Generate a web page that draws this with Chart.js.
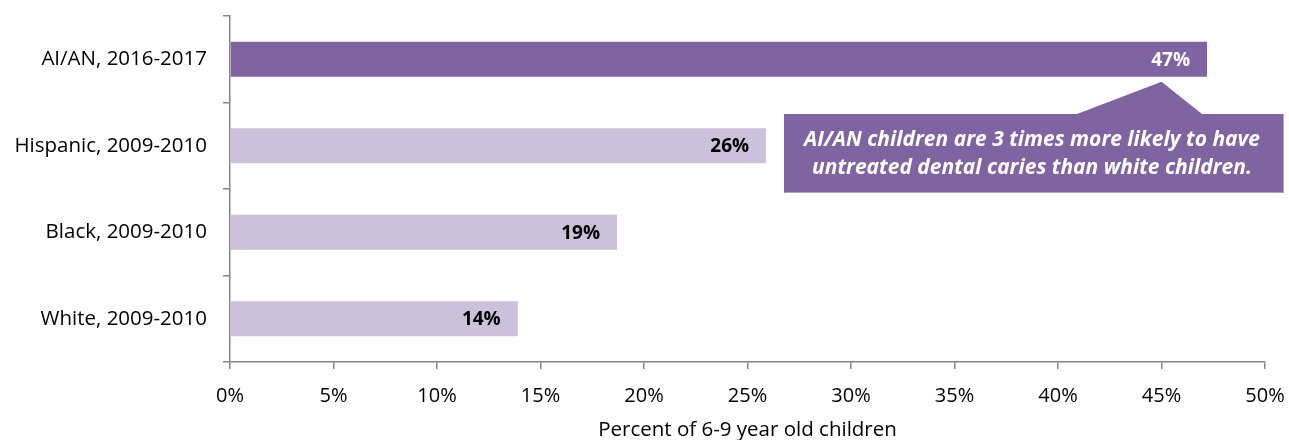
<!DOCTYPE html>
<html>
<head>
<meta charset="utf-8">
<script src="https://cdn.jsdelivr.net/npm/chart.js@4/dist/chart.umd.min.js"></script>
<style>
  html, body { margin: 0; padding: 0; background: #fff; }
  #wrap { width: 1289px; height: 440px; position: relative; }
</style>
</head>
<body>
<div id="wrap"><canvas id="c"></canvas></div>
<script>
// Untreated dental caries among 6-9 year old children
const categories = ['AI/AN, 2016-2017', 'Hispanic, 2009-2010', 'Black, 2009-2010', 'White, 2009-2010'];
const values = [47.2, 25.9, 18.7, 13.9];
const valueLabels = ['47%', '26%', '19%', '14%'];
const barColors = ['#8064A2', '#CCC1DA', '#CCC1DA', '#CCC1DA'];
const labelColors = ['#FFFFFF', '#000000', '#000000', '#000000'];
const calloutLines = ['AI/AN children are 3 times more likely to have', 'untreated dental caries than white children.'];
const axisTitle = 'Percent of 6-9 year old children';

const FONT = '"Open Sans", Lato, sans-serif';

// value labels drawn inside the bar ends
const barLabels = {
  id: 'barLabels',
  afterDatasetsDraw(chart) {
    const ctx = chart.ctx;
    const meta = chart.getDatasetMeta(0);
    ctx.save();
    ctx.font = 'bold 19px ' + FONT;
    ctx.textAlign = 'right';
    ctx.textBaseline = 'middle';
    meta.data.forEach((bar, i) => {
      ctx.fillStyle = labelColors[i];
      ctx.fillText(valueLabels[i], bar.x - 17, bar.y + 1);
    });
    ctx.restore();
  }
};

// callout box with a pointer toward the AI/AN bar
const callout = {
  id: 'callout',
  afterDraw(chart) {
    const ctx = chart.ctx;
    const xs = chart.scales.x;
    const bar = chart.getDatasetMeta(0).data[0];
    const left = 784, right = 1284, top = 114, bottom = 193;
    const apexX = xs.getPixelForValue(45);
    const apexY = bar.y + bar.height / 2 + 5;
    ctx.save();
    ctx.fillStyle = '#8064A2';
    ctx.beginPath();
    ctx.moveTo(left, top);
    ctx.lineTo(1077, top);
    ctx.lineTo(apexX, apexY);
    ctx.lineTo(1202, top);
    ctx.lineTo(right, top);
    ctx.lineTo(right, bottom);
    ctx.lineTo(left, bottom);
    ctx.closePath();
    ctx.fill();
    ctx.strokeStyle = '#B3A2C7';
    ctx.lineWidth = 1;
    ctx.beginPath();
    ctx.moveTo(left + 0.5, bottom - 0.5);
    ctx.lineTo(right - 0.5, bottom - 0.5);
    ctx.lineTo(right - 0.5, top);
    ctx.stroke();
    ctx.fillStyle = '#FFFFFF';
    ctx.font = 'italic bold 21px ' + FONT;
    ctx.textAlign = 'center';
    ctx.textBaseline = 'middle';
    const cx = (left + right) / 2 - 2;
    ctx.fillText(calloutLines[0], cx, 140);
    ctx.fillText(calloutLines[1], cx, 168);
    ctx.restore();
  }
};

new Chart(document.getElementById('c'), {
  type: 'bar',
  data: {
    labels: categories,
    datasets: [{
      data: values,
      backgroundColor: barColors,
      borderWidth: 0,
      barPercentage: 0.405,
      categoryPercentage: 1.0
    }]
  },
  options: {
    indexAxis: 'y',
    responsive: true,
    maintainAspectRatio: false,
    animation: false,
    layout: { padding: { top: 16, right: 24, left: 0, bottom: 0 } },
    plugins: { legend: { display: false }, tooltip: { enabled: false } },
    scales: {
      x: {
        min: 0,
        max: 50,
        ticks: {
          stepSize: 5,
          color: '#000',
          font: { family: FONT, size: 20 },
          padding: 15,
          callback: v => v + '%'
        },
        grid: {
          display: true,
          drawOnChartArea: false,
          drawTicks: true,
          tickLength: 7,
          color: '#868686',
          lineWidth: 1.5
        },
        border: { display: true, color: '#868686', width: 1.5 },
        title: {
          display: true,
          text: axisTitle,
          color: '#000',
          font: { family: FONT, size: 20.5 },
          padding: { top: 0, bottom: -2 }
        },
        afterFit(scale) {
          scale.height = 78;
          scale.paddingLeft = 0;
          scale.paddingRight = 0;
        }
      },
      y: {
        ticks: {
          color: '#000',
          font: { family: FONT, size: 20.5 },
          padding: 16
        },
        grid: {
          display: true,
          drawOnChartArea: false,
          drawTicks: true,
          tickLength: 7,
          offset: true,
          color: '#868686',
          lineWidth: 1.5
        },
        border: { display: true, color: '#868686', width: 1.5 },
        afterFit(scale) {
          scale.width = 230;
          scale.paddingTop = 0;
          scale.paddingBottom = 0;
        }
      }
    }
  },
  plugins: [barLabels, callout]
});
</script>
</body>
</html>
